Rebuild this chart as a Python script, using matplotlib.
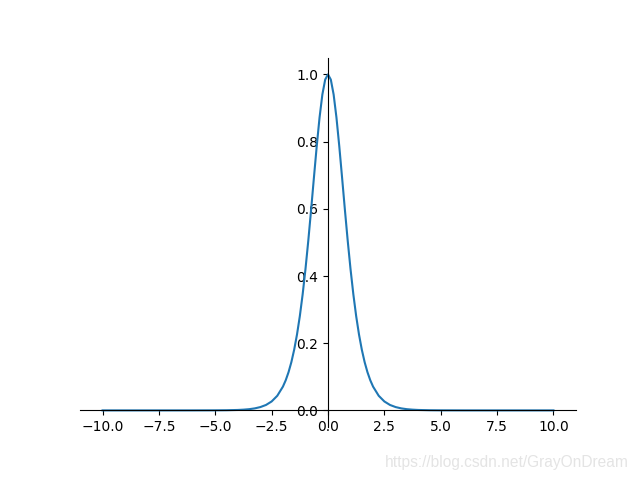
import numpy as np
import matplotlib
matplotlib.use("Agg")
import matplotlib.pyplot as plt

# values (symmetric bell, heavy tails)
x_right = [0.0, 0.125, 0.25, 0.375, 0.5, 0.625, 0.75, 0.875, 1.0, 1.125, 1.25, 1.375,
           1.5, 1.625, 1.75, 1.875, 2.0, 2.25, 2.5, 2.75, 3.0, 3.25, 3.5, 3.75, 4.0,
           4.5, 5.0, 6.0, 7.0, 8.0, 9.0, 10.0]
y_right = [1.0, 0.9845, 0.940, 0.8716, 0.7864, 0.6924, 0.5966, 0.5045, 0.420, 0.3451, 0.2804, 0.2259,
           0.1807, 0.1437, 0.1138, 0.0898, 0.0707, 0.0435, 0.0266, 0.0162, 0.0099, 0.0060, 0.0036, 0.0022, 0.0013,
           0.0005, 0.0002, 0.00003, 0.0, 0.0, 0.0, 0.0]

x = np.array([-v for v in x_right[:0:-1]] + x_right)
y = np.array(y_right[:0:-1] + y_right)

fig, ax = plt.subplots(figsize=(6.4, 4.8), dpi=100)
ax.plot(x, y)

# centred axes
ax.spines['right'].set_visible(False)
ax.spines['top'].set_visible(False)
ax.spines['left'].set_position(('data', 0))
ax.spines['bottom'].set_position(('data', 0))

ax.set_xticks([-10.0, -7.5, -5.0, -2.5, 0.0, 2.5, 5.0, 7.5, 10.0])

# watermark
fig.text(0.983, 0.028, "https://blog.csdn.net/GrayOnDream", ha='right', va='baseline',
         color='#e4e4e4', fontsize=11.2, family='Liberation Sans')

plt.savefig("out.png")
